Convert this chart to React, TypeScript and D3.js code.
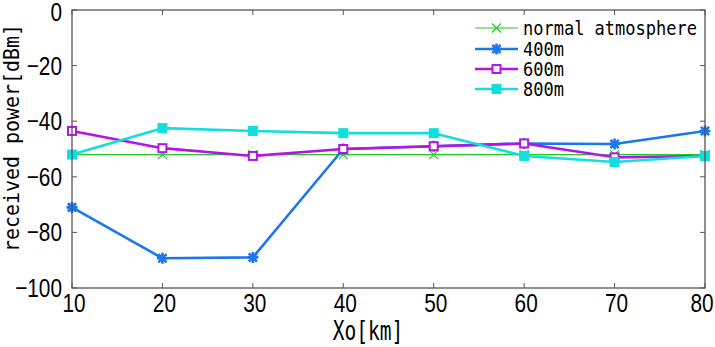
import React from "react";
import * as d3 from "d3";

// distance along path [km]
const distances = [10, 20, 30, 40, 50, 60, 70, 80];

// received power [dBm] per duct height
const normalAtmosphere = [-52, -52, -52, -52, -52, -52, -52, -52];
const duct400 = [-71, -89.3, -89, -50, -49, -48, -48.2, -43.5];
const duct600 = [-43.5, -49.7, -52.5, -50, -49, -48, -53, -52.5];
const duct800 = [-52, -42.5, -43.5, -44.3, -44.3, -52.5, -54.7, -52.5];

const yTicks = [0, -20, -40, -60, -80, -100];
const legendLabels = ["normal atmosphere", "400m", "600m", "800m"];

const W = 715;
const H = 347;
const left = 72;
const right = 705;
const top = 10;
const bottom = 288;

const x = d3.scaleLinear().domain([10, 80]).range([left, right]);
const y = d3.scaleLinear().domain([-100, 0]).range([bottom, top]);

const numFont = "'Liberation Sans', Arial, sans-serif";
const monoFont = "'DejaVu Sans Mono', 'Liberation Mono', monospace";

type Marker = "x" | "star" | "openSquare" | "square";

const series = [
  { name: legendLabels[0], values: normalAtmosphere, color: "#22cc22", width: 1.2, marker: "x" as Marker },
  { name: legendLabels[1], values: duct400, color: "#1a78ec", width: 2.6, marker: "star" as Marker },
  { name: legendLabels[2], values: duct600, color: "#b414e6", width: 2.6, marker: "openSquare" as Marker },
  { name: legendLabels[3], values: duct800, color: "#12dede", width: 2.6, marker: "square" as Marker },
];

function MarkerShape({ kind, cx, cy, color }: { kind: Marker; cx: number; cy: number; color: string }) {
  if (kind === "x") {
    const r = 4.5;
    return (
      <path
        d={`M${cx - r},${cy - r}L${cx + r},${cy + r}M${cx - r},${cy + r}L${cx + r},${cy - r}`}
        stroke={color}
        strokeWidth={1.2}
        fill="none"
      />
    );
  }
  if (kind === "star") {
    const r = 5.5;
    const d = r * 0.75;
    return (
      <path
        d={`M${cx - r},${cy}L${cx + r},${cy}M${cx},${cy - r}L${cx},${cy + r}M${cx - d},${cy - d}L${cx + d},${cy + d}M${cx - d},${cy + d}L${cx + d},${cy - d}`}
        stroke={color}
        strokeWidth={2.6}
        fill="none"
      />
    );
  }
  if (kind === "openSquare") {
    const s = 8;
    return <rect x={cx - s / 2} y={cy - s / 2} width={s} height={s} fill="#fff" stroke={color} strokeWidth={2} />;
  }
  const s = 10;
  return <rect x={cx - s / 2} y={cy - s / 2} width={s} height={s} fill={color} />;
}

// horizontally condensed text
function NarrowText({
  x0,
  y0,
  sx,
  size,
  anchor,
  font,
  children,
  rotate = 0,
}: {
  x0: number;
  y0: number;
  sx: number;
  size: number;
  anchor: "start" | "middle" | "end";
  font: string;
  children: React.ReactNode;
  rotate?: number;
}) {
  return (
    <text
      transform={`translate(${x0},${y0}) rotate(${rotate}) scale(${sx},1)`}
      textAnchor={anchor}
      fontFamily={font}
      fontSize={size}
      fill="#000"
    >
      {children}
    </text>
  );
}

export default function App() {
  const line = d3
    .line<number>()
    .x((_, i) => x(distances[i]))
    .y((v) => y(v));

  const legendX0 = 475;
  const legendX1 = 518;
  const legendY = [28, 49, 69, 89];

  return (
    <svg width={W} height={H} style={{ position: "absolute", left: 0, top: 0, background: "#fff" }}>
      <rect x={0} y={0} width={W} height={H} fill="#fff" />

      {/* series lines and markers */}
      {series.map((s) => (
        <g key={s.name}>
          <path d={line(s.values) ?? ""} fill="none" stroke={s.color} strokeWidth={s.width} strokeLinejoin="round" />
          {s.values.map((v, i) => (
            <MarkerShape key={i} kind={s.marker} cx={x(distances[i])} cy={y(v)} color={s.color} />
          ))}
        </g>
      ))}

      {/* frame with inward ticks on every side */}
      <rect x={left} y={top} width={right - left} height={bottom - top} fill="none" stroke="#555" strokeWidth={1.3} />
      {distances.map((d) => (
        <g key={`xt${d}`}>
          <line x1={x(d)} x2={x(d)} y1={bottom} y2={bottom - 5} stroke="#555" />
          <line x1={x(d)} x2={x(d)} y1={top} y2={top + 5} stroke="#555" />
          {/* keep the last label inside the canvas */}
          <NarrowText x0={Math.min(x(d) + 2, W - 13)} y0={312} sx={0.8} size={26} anchor="middle" font={numFont}>
            {d}
          </NarrowText>
        </g>
      ))}
      {yTicks.map((t) => (
        <g key={`yt${t}`}>
          <line x1={left} x2={left + 5} y1={y(t)} y2={y(t)} stroke="#555" />
          <line x1={right} x2={right - 5} y1={y(t)} y2={y(t)} stroke="#555" />
          <NarrowText x0={62} y0={Math.max(y(t) + 9, 21)} sx={0.8} size={26} anchor="end" font={numFont}>
            {t === 0 ? "0" : `\u2212${Math.abs(t)}`}
          </NarrowText>
        </g>
      ))}

      {/* legend */}
      {series.map((s, i) => (
        <g key={`lg${s.name}`}>
          <line x1={legendX0} x2={legendX1} y1={legendY[i]} y2={legendY[i]} stroke={s.color} strokeWidth={s.width} />
          <MarkerShape kind={s.marker} cx={(legendX0 + legendX1) / 2} cy={legendY[i]} color={s.color} />
          <NarrowText x0={523} y0={legendY[i] + 7} sx={0.85} size={20} anchor="start" font={monoFont}>
            {s.name}
          </NarrowText>
        </g>
      ))}

      {/* axis titles */}
      <NarrowText x0={368} y0={340} sx={0.75} size={26} anchor="middle" font={monoFont}>
        Xo[km]
      </NarrowText>
      <NarrowText x0={19} y0={138} sx={0.95} size={21} anchor="middle" font={monoFont} rotate={-90}>
        received power[dBm]
      </NarrowText>
    </svg>
  );
}
